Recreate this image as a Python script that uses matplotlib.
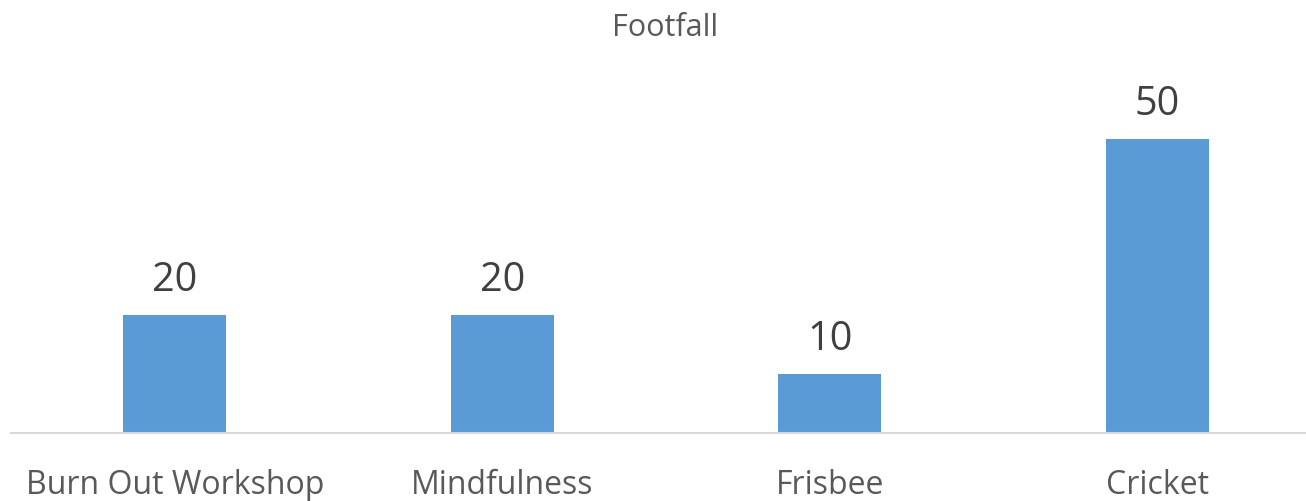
import matplotlib
matplotlib.use("Agg")
import matplotlib.pyplot as plt
import numpy as np

plt.rcParams['font.family'] = ['Open Sans', 'DejaVu Sans']

## data
categories = ["Burn Out Workshop", "Mindfulness", "Frisbee", "Cricket"]
footfall = [20, 20, 10, 50]

W, H = 1306, 501
fig = plt.figure(figsize=(W / 100, H / 100), dpi=100)

# axes box in pixel terms: baseline at y=433, x from 11 to 1321
ax = fig.add_axes([11 / W, (H - 433) / H, 1310 / W, 353 / H])

x = np.arange(len(categories))
bars = ax.bar(x, footfall, width=0.315, color="#5B9BD5", zorder=2)

ax.set_xlim(-0.5, len(categories) - 0.5)
ax.set_ylim(0, 60)

for s in ["top", "right", "left"]:
    ax.spines[s].set_visible(False)
ax.spines["bottom"].set_color("#D9D9D9")
ax.spines["bottom"].set_linewidth(1.5)
ax.set_yticks([])
ax.set_xticks(x)
ax.set_xticklabels(categories, fontsize=23, color="#595959")
ax.tick_params(axis="x", length=0, pad=26)

# value labels above bars
for xi, v in zip(x, footfall):
    ax.annotate(str(v), (xi, v), xytext=(0, 10), textcoords="offset points",
                ha="center", va="bottom", fontsize=28.5, color="#404040")

fig.text(665 / W, 1 - 28 / H, "Footfall", ha="center", va="center",
         fontsize=22, color="#595959")

fig.savefig("out.png", dpi=100)
